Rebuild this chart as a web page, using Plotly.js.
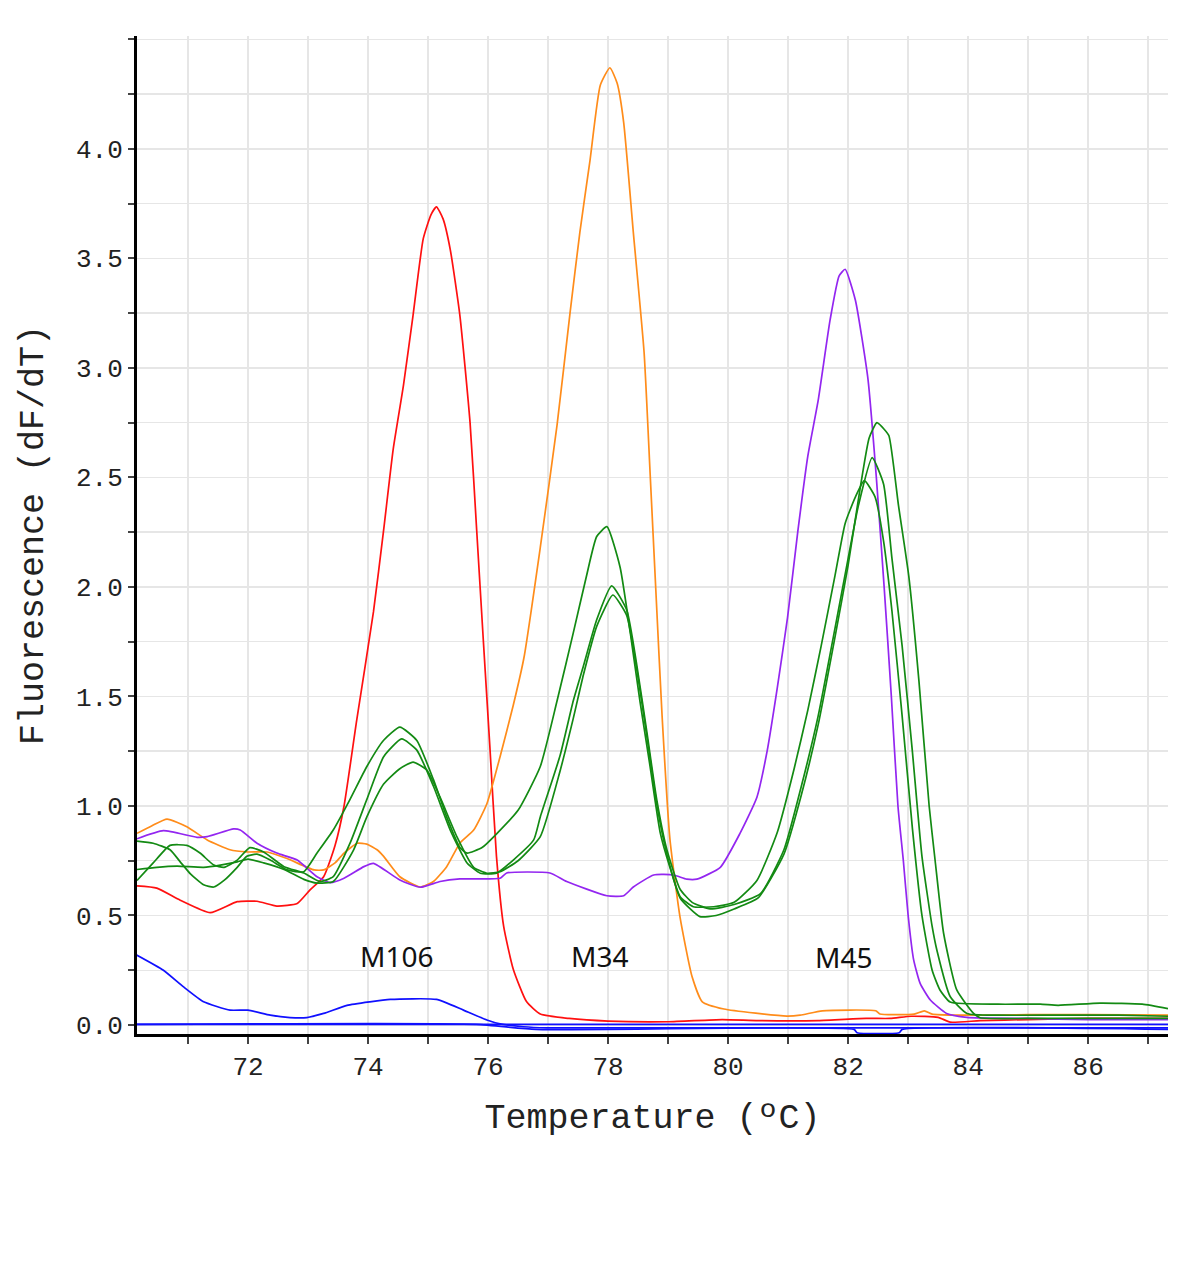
<!DOCTYPE html>
<html>
<head>
<meta charset="utf-8">
<script src="https://cdn.plot.ly/plotly-3.0.1.min.js"></script>
<style>html,body{margin:0;padding:0;background:#fff;}#chart{width:1200px;height:1263px;}</style>
</head>
<body>
<div id="chart"></div>
<script>
// Temperature (°C) and dF/dT values
const redX = [70.15,70.48,70.87,71.37,71.82,72.15,72.48,72.82,73.03,73.26,73.45,73.6,73.81,74.09,74.26,74.42,74.59,74.75,74.92,75.05,75.14,75.25,75.37,75.53,75.7,75.81,75.92,76.03,76.14,76.26,76.42,76.64,76.87,77.35,78.0,79.0,79.9,80.5,81.5,82.3,82.7,83.05,83.5,83.7,84.2,85.0,86.0,87.33];
const redY = [0.635,0.625,0.57,0.513,0.563,0.565,0.543,0.555,0.616,0.677,0.82,1.0,1.39,1.886,2.26,2.63,2.92,3.24,3.59,3.70,3.735,3.68,3.54,3.24,2.75,2.26,1.76,1.27,0.77,0.45,0.255,0.107,0.05,0.03,0.018,0.015,0.025,0.02,0.02,0.03,0.03,0.04,0.035,0.013,0.02,0.025,0.03,0.03];

const orangeX = [70.15,70.4,70.65,70.98,71.32,71.7,71.98,72.32,72.65,73.1,73.26,73.45,73.6,73.82,73.98,74.15,74.26,74.53,74.87,75.09,75.31,75.53,75.76,75.98,76.2,76.42,76.6,76.87,77.15,77.37,77.53,77.7,77.87,78.03,78.15,78.26,78.42,78.6,78.7,78.8,78.9,79.03,79.2,79.4,79.57,79.93,80.46,80.98,81.2,81.57,82.46,82.53,83.1,83.27,83.4,83.88,85.0,86.0,87.33];
const orangeY = [0.875,0.91,0.94,0.905,0.845,0.80,0.79,0.79,0.76,0.708,0.708,0.74,0.785,0.83,0.826,0.80,0.77,0.677,0.63,0.655,0.723,0.83,0.89,1.01,1.225,1.46,1.68,2.18,2.74,3.26,3.62,3.95,4.29,4.37,4.30,4.12,3.62,3.07,2.52,1.96,1.41,0.85,0.49,0.22,0.106,0.073,0.054,0.041,0.045,0.065,0.065,0.05,0.05,0.065,0.05,0.045,0.047,0.047,0.045];

const purpleX = [70.15,70.59,71.15,71.32,71.76,71.87,72.15,72.48,72.82,73.15,73.37,73.6,73.93,74.09,74.53,74.87,75.2,75.53,76.2,76.31,77.03,77.31,77.98,78.26,78.42,78.76,79.09,79.31,79.48,79.87,80.2,80.48,80.65,80.82,80.99,81.16,81.33,81.5,81.7,81.85,81.95,82.12,82.33,82.47,82.6,82.72,82.83,82.92,83.0,83.09,83.2,83.37,83.64,83.98,85.0,86.0,87.33];
const purpleY = [0.85,0.887,0.857,0.86,0.895,0.89,0.83,0.785,0.753,0.677,0.65,0.67,0.723,0.738,0.662,0.629,0.655,0.667,0.67,0.694,0.694,0.655,0.59,0.59,0.63,0.685,0.685,0.666,0.666,0.72,0.876,1.04,1.25,1.54,1.86,2.25,2.6,2.85,3.22,3.42,3.45,3.31,2.95,2.5,2.0,1.5,1.0,0.75,0.5,0.3,0.19,0.114,0.053,0.035,0.03,0.025,0.025];

const greenAX = [70.15,70.42,70.7,70.87,71.04,71.26,71.43,71.6,71.82,71.98,72.15,72.37,72.65,72.93,73.15,73.42,73.7,73.98,74.26,74.53,74.81,75.09,75.31,75.53,75.65,75.9,76.15,76.5,76.87,77.15,77.42,77.64,77.81,77.98,78.2,78.37,78.53,78.7,78.87,79.03,79.2,79.42,79.76,80.1,80.48,80.82,81.1,81.33,81.55,81.78,81.95,82.12,82.27,82.45,82.59,82.73,82.9,83.07,83.23,83.4,83.53,83.7,84.5,85.2,85.5,86.2,86.9,87.33];
const greenAY = [0.84,0.83,0.80,0.745,0.69,0.64,0.63,0.66,0.72,0.77,0.78,0.753,0.708,0.70,0.785,0.89,1.03,1.18,1.30,1.36,1.30,1.12,0.95,0.81,0.785,0.81,0.875,0.98,1.18,1.48,1.79,2.05,2.23,2.275,2.09,1.79,1.48,1.18,0.876,0.72,0.586,0.54,0.54,0.56,0.66,0.88,1.17,1.44,1.73,2.05,2.29,2.41,2.485,2.41,2.21,1.89,1.41,0.9,0.5,0.25,0.16,0.105,0.095,0.095,0.09,0.1,0.095,0.075];

const greenBX = [70.15,70.42,70.7,70.98,71.2,71.43,71.6,71.82,72.03,72.26,72.6,72.93,73.2,73.42,73.7,73.98,74.26,74.56,74.81,75.09,75.37,75.65,75.87,76.14,76.42,76.76,76.87,77.2,77.42,77.59,77.81,78.06,78.31,78.48,78.65,78.81,78.98,79.2,79.4,79.7,80.1,80.54,80.93,81.22,81.5,81.78,82.0,82.17,82.4,82.59,82.73,82.9,83.07,83.23,83.4,83.48,83.7,83.98,84.5,85.5,86.5,87.33];
const greenBY = [0.66,0.74,0.82,0.82,0.785,0.73,0.72,0.753,0.81,0.79,0.723,0.694,0.655,0.677,0.83,1.03,1.225,1.306,1.256,1.09,0.89,0.74,0.693,0.693,0.753,0.845,0.95,1.23,1.48,1.64,1.85,2.005,1.895,1.64,1.33,1.03,0.8,0.62,0.56,0.53,0.55,0.6,0.80,1.09,1.41,1.81,2.13,2.37,2.59,2.47,2.13,1.73,1.25,0.77,0.45,0.34,0.13,0.053,0.045,0.045,0.045,0.04];

const greenCX = [70.15,70.48,70.82,71.26,71.54,71.82,72.0,72.26,72.6,72.93,73.15,73.42,73.76,73.98,74.26,74.53,74.75,74.98,75.2,75.48,75.76,75.98,76.2,76.5,76.87,77.2,77.42,77.59,77.81,78.08,78.31,78.48,78.65,78.81,78.98,79.2,79.53,79.8,80.1,80.5,80.93,81.22,81.5,81.78,82.0,82.2,82.35,82.48,82.6,82.68,82.84,83.01,83.18,83.35,83.45,83.59,83.81,84.09,84.2,85.0,86.0,87.33];
const greenCY = [0.71,0.72,0.725,0.72,0.73,0.745,0.757,0.74,0.71,0.665,0.648,0.655,0.80,0.95,1.10,1.17,1.20,1.164,1.04,0.86,0.72,0.693,0.70,0.75,0.86,1.16,1.40,1.60,1.82,1.963,1.87,1.62,1.31,1.01,0.78,0.58,0.495,0.50,0.53,0.58,0.78,1.05,1.37,1.77,2.1,2.45,2.68,2.75,2.72,2.69,2.37,2.05,1.57,1.0,0.75,0.42,0.16,0.053,0.033,0.03,0.03,0.03];

const blueAX = [70.14,70.59,70.92,71.26,71.7,72.0,72.37,72.7,72.98,73.26,73.65,74.03,74.37,75.14,75.59,75.98,76.2,76.59,76.98,87.33];
const blueAY = [0.32,0.25,0.175,0.106,0.068,0.068,0.045,0.034,0.034,0.053,0.09,0.106,0.117,0.117,0.068,0.023,0.005,-0.008,-0.013,-0.013];
const blueBX = [70.15,87.33];
const blueBY = [0.003,0.003];
const blueCX = [70.15,75.8,76.8,82.1,82.15,82.85,82.9,87.33];
const blueCY = [0.003,0.003,-0.02,-0.02,-0.035,-0.035,-0.02,-0.02];

const yTickVals = [0,0.5,1,1.5,2,2.5,3,3.5,4];
const xTickVals = [72,74,76,78,80,82,84,86];

const peakLabels = ["M106","M34","M45"];
const peakLabelX = [74.47,77.85,81.92];
const peakLabelY = [0.315,0.315,0.31];

const xTitle = "Temperature (\u00baC)";
const yTitle = "Fluorescence (dF/dT)";

function line(x, y, color) {
  return {x: x, y: y, type: 'scatter', mode: 'lines',
    line: {color: color, width: 1.7, shape: 'spline', smoothing: 0.5},
    hoverinfo: 'skip', showlegend: false};
}

const traces = [
  line(blueAX, blueAY, '#1010ff'),
  line(blueBX, blueBY, '#1010ff'),
  line(blueCX, blueCY, '#1010ff'),
  line(redX, redY, '#ff1010'),
  line(orangeX, orangeY, '#ff8c1a'),
  line(purpleX, purpleY, '#9326f0'),
  line(greenAX, greenAY, '#138a13'),
  line(greenBX, greenBY, '#138a13'),
  line(greenCX, greenCY, '#138a13')
];

const monoFont = {family: '"Liberation Mono", "DejaVu Sans Mono", monospace', size: 26, color: '#222'};
const titleFont = {family: '"Liberation Mono", "DejaVu Sans Mono", monospace', size: 35, color: '#222'};

const layout = {
  width: 1200, height: 1263,
  margin: {l: 137, r: 32, t: 36, b: 229},
  paper_bgcolor: '#ffffff', plot_bgcolor: '#ffffff',
  showlegend: false,
  xaxis: {
    range: [70.15, 87.33], tickmode: 'array', tickvals: xTickVals,
    showgrid: true, gridcolor: '#e6e6e6', gridwidth: 1.5,
    ticks: 'outside', ticklen: 7, tickwidth: 2, tickcolor: '#444',
    tickfont: monoFont,
    minor: {tick0: 71, dtick: 1, ticks: 'outside', ticklen: 7, tickwidth: 2, tickcolor: '#444', showgrid: true, gridcolor: '#e6e6e6', gridwidth: 1.5},
    showline: true, linecolor: '#000', linewidth: 3, zeroline: false,
    title: {text: xTitle, font: titleFont, standoff: 22},
    automargin: false
  },
  yaxis: {
    range: [-0.041, 4.515], tickmode: 'array', tickvals: yTickVals, tickformat: '.1f',
    showgrid: true, gridcolor: '#e6e6e6', gridwidth: 1.5,
    ticks: 'outside', ticklen: 6, tickwidth: 2, tickcolor: '#444',
    tickfont: monoFont,
    minor: {tick0: 0, dtick: 0.25, ticks: 'outside', ticklen: 6, tickwidth: 2, tickcolor: '#444', showgrid: true, gridcolor: '#e6e6e6', gridwidth: 1.5},
    showline: true, linecolor: '#000', linewidth: 3, zeroline: false,
    title: {text: yTitle, font: titleFont, standoff: 22},
    automargin: false
  },
  annotations: peakLabels.map((t, i) => ({
    x: peakLabelX[i], y: peakLabelY[i], xref: 'x', yref: 'y', text: t, showarrow: false,
    font: {family: '"Noto Sans", "Open Sans", sans-serif', size: 28, color: '#111'}
  }))
};

Plotly.newPlot('chart', traces, layout, {staticPlot: true, displayModeBar: false});
</script>
</body>
</html>
